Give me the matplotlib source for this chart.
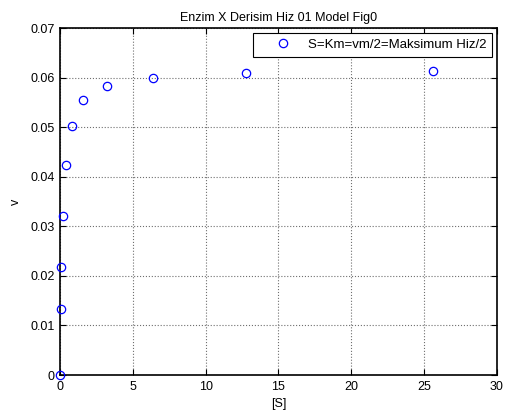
import matplotlib
matplotlib.use('Agg')
import matplotlib.pyplot as plt

plt.rcParams['font.family'] = ['Liberation Sans', 'DejaVu Sans']

# substrate concentration and reaction rate
S = [0, 0.05, 0.1, 0.2, 0.4, 0.8, 1.6, 3.2, 6.4, 12.8, 25.6]
v = [0, 0.0133, 0.0217, 0.0321, 0.0424, 0.0502, 0.0555, 0.0583, 0.0600, 0.0610, 0.0614]

fig = plt.figure(figsize=(5.09, 4.12), dpi=100)
ax = fig.add_axes([0.1179, 0.0898, 0.8585, 0.842])

ax.plot(S, v, 'o', color='#0000ff', markerfacecolor='none', markersize=6,
        markeredgewidth=0.9, label='S=Km=vm/2=Maksimum Hiz/2', clip_on=False, zorder=5)

ax.set_xlim(0, 30)
ax.set_ylim(0, 0.07)
ax.set_xticks([0, 5, 10, 15, 20, 25, 30])
ax.set_yticks([0, 0.01, 0.02, 0.03, 0.04, 0.05, 0.06, 0.07])
ax.set_yticklabels(['0', '0.01', '0.02', '0.03', '0.04', '0.05', '0.06', '0.07'])
ax.tick_params(direction='in', top=True, right=True, labelsize=9, length=4, width=0.8, pad=4)
ax.grid(True, color='#6f6f6f', linestyle=':', linewidth=0.8)
for sp in ax.spines.values():
    sp.set_linewidth(1.2)

ax.set_title('Enzim X Derisim Hiz 01 Model Fig0', fontsize=9, pad=5)
ax.set_xlabel('[S]', fontsize=9, labelpad=4)
ax.set_ylabel('v', fontsize=9, labelpad=6)

leg = ax.legend(loc='upper right', fontsize=9.5, fancybox=False, framealpha=1,
                edgecolor='black', borderaxespad=0.35, handlelength=3.6,
                handletextpad=0.1, borderpad=0.45)
leg.get_frame().set_linewidth(0.8)

fig.savefig('out.png', dpi=100)
